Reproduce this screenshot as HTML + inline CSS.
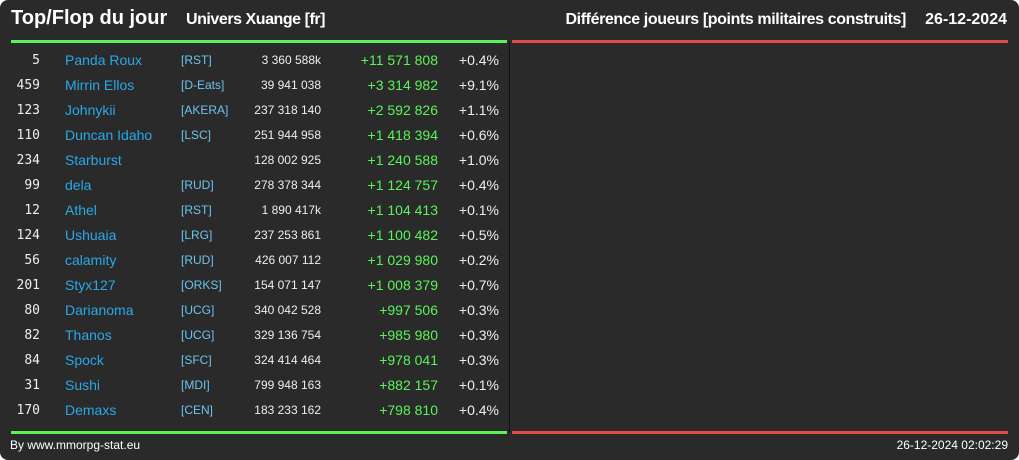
<!DOCTYPE html>
<html><head><meta charset="utf-8"><style>
html,body{margin:0;padding:0;background:#fff;}
#card{position:absolute;left:0;top:0;width:1019px;height:460px;background:#2a2a2a;border-radius:8px;overflow:hidden;font-family:"Liberation Sans",sans-serif;color:#eee;}
.abs{position:absolute;white-space:nowrap;}
.row{position:absolute;left:0;width:510px;height:25px;font-size:14px;line-height:25px;}
.row span{position:absolute;white-space:nowrap;}
</style></head><body>
<div id="card">
<div class="abs" style="left:11px;top:7px;font-size:20px;font-weight:bold;color:#fff;">Top/Flop du jour</div>
<div class="abs" style="left:186px;top:11px;font-size:16px;font-weight:bold;color:#fff;letter-spacing:-0.45px;">Univers Xuange [fr]</div>
<div class="abs" style="right:113px;top:11px;font-size:16px;font-weight:bold;color:#fff;letter-spacing:-0.4px;">Différence joueurs [points militaires construits]</div>
<div class="abs" style="right:12px;top:11px;font-size:16px;font-weight:bold;color:#fff;">26-12-2024</div>
<div class="abs" style="left:11px;top:40px;width:496px;height:3px;background:#5af35a;"></div>
<div class="abs" style="left:512px;top:40px;width:496px;height:3px;background:#e24a4a;"></div>
<div class="abs" style="left:509px;top:43px;width:1px;height:389px;background:#111;"></div>
<div class="abs" style="left:11px;top:431px;width:496px;height:3px;background:#5af35a;"></div>
<div class="abs" style="left:512px;top:431px;width:496px;height:3px;background:#e24a4a;"></div>
<div class="abs" style="left:10px;top:438px;font-size:12px;color:#fff;">By www.mmorpg-stat.eu</div>
<div class="abs" style="right:11px;top:438px;font-size:12px;color:#fff;">26-12-2024 02:02:29</div>
<div id="rows"></div>
</div>
<script>
const ranks=["5","459","123","110","234","99","12","124","56","201","80","82","84","31","170"];
const names=["Panda Roux","Mirrin Ellos","Johnykii","Duncan Idaho","Starburst","dela","Athel","Ushuaia","calamity","Styx127","Darianoma","Thanos","Spock","Sushi","Demaxs"];
const tags=["[RST]","[D-Eats]","[AKERA]","[LSC]","","[RUD]","[RST]","[LRG]","[RUD]","[ORKS]","[UCG]","[UCG]","[SFC]","[MDI]","[CEN]"];
const totals=["3 360 588k","39 941 038","237 318 140","251 944 958","128 002 925","278 378 344","1 890 417k","237 253 861","426 007 112","154 071 147","340 042 528","329 136 754","324 414 464","799 948 163","183 233 162"];
const diffs=["+11 571 808","+3 314 982","+2 592 826","+1 418 394","+1 240 588","+1 124 757","+1 104 413","+1 100 482","+1 029 980","+1 008 379","+997 506","+985 980","+978 041","+882 157","+798 810"];
const pcts=["+0.4%","+9.1%","+1.1%","+0.6%","+1.0%","+0.4%","+0.1%","+0.5%","+0.2%","+0.7%","+0.3%","+0.3%","+0.3%","+0.1%","+0.4%"];
const host=document.getElementById('rows');
function mk(row,text,css,name){const s=document.createElement('span');s.textContent=text;s.style.cssText=css;


row.appendChild(s);}
ranks.forEach((r,i)=>{
 const row=document.createElement('div');row.className='row';row.style.top=(48+i*25)+'px';
 
 
 mk(row,r,'right:470px;color:#eee;font-family:"DejaVu Sans Mono",monospace;font-size:13px;','rank');
 const n=document.createElement('span');n.textContent=names[i];n.style.cssText='left:65px;color:#29a8e8;';
 
 
 row.appendChild(n);
 mk(row,tags[i],'left:181px;color:#6cc3ee;font-size:12px;','alliance-tag');
 mk(row,totals[i],'right:189px;color:#eee;font-size:12px;','total-points');
 mk(row,diffs[i],'right:72px;color:#5af35a;','point-difference');
 mk(row,pcts[i],'right:11px;color:#eee;','percent-change');
 host.appendChild(row);
});
</script>
</body></html>
